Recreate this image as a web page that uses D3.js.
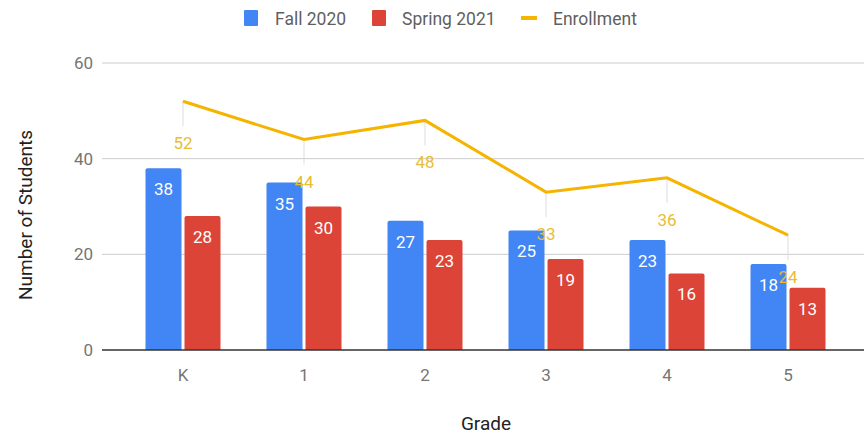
<!DOCTYPE html>
<html lang="en">
<meta charset="UTF-8">
<script src="https://d3js.org/d3.v7.min.js"></script>
<style>
body { margin: 0; background: #fff; }
text { font-family: Roboto, sans-serif; }
.tick-label { fill: #757575; font-size: 17px; }
.grid { stroke: #ccc; stroke-width: 1; }
.bar-label { fill: #fff; font-size: 17px; }
.enroll-label { fill: #e8bd34; font-size: 17px; }
.axis-title { fill: #222; font-size: 19px; }
.legend-text { fill: #5f5f5f; font-size: 17.5px; }
</style>
<body>
<svg width="864" height="436"></svg>
<script>
const grades = ['K', '1', '2', '3', '4', '5'];
const fall2020 = [38, 35, 27, 25, 23, 18];
const spring2021 = [28, 30, 23, 19, 16, 13];
const enrollment = [52, 44, 48, 33, 36, 24];
const yTicks = [0, 20, 40, 60];

const svg = d3.select('svg');
const blue = '#4285f4', red = '#db4437', gold = '#f4b400';

const x = d3.scaleBand().domain(grades).range([122.5, 848.5]);
const y = d3.scaleLinear().domain([0, 60]).range([350, 63]);
const barW = 36, gap = 3;

// gridlines + tick labels
svg.selectAll('.grid').data(yTicks.filter(d => d !== 0))
  .enter().append('line')
    .attr('class', 'grid')
    .attr('x1', 102).attr('x2', 864)
    .attr('y1', d => y(d)).attr('y2', d => y(d));

svg.selectAll('.ylab').data(yTicks)
  .enter().append('text')
    .attr('class', 'tick-label')
    .attr('x', 93).attr('y', d => y(d))
    .attr('dy', '0.35em')
    .attr('text-anchor', 'end')
    .text(d => d);

// bars
const rounded = (x0, y0, w, h, r) =>
  `M${x0},${y0 + h}V${y0 + r}Q${x0},${y0} ${x0 + r},${y0}H${x0 + w - r}Q${x0 + w},${y0} ${x0 + w},${y0 + r}V${y0 + h}Z`;

const series = [
  {vals: fall2020, color: blue, off: -barW - gap / 2},
  {vals: spring2021, color: red, off: gap / 2}
];
series.forEach(s => {
  svg.append('g').selectAll('path').data(s.vals)
    .enter().append('path')
      .attr('fill', s.color)
      .attr('d', (d, i) => {
        const cx = x(grades[i]) + x.bandwidth() / 2 + s.off;
        return rounded(cx, y(d), barW, y(0) - y(d), 2);
      });
  svg.append('g').selectAll('text').data(s.vals)
    .enter().append('text')
      .attr('class', 'bar-label')
      .attr('text-anchor', 'middle')
      .attr('x', (d, i) => x(grades[i]) + x.bandwidth() / 2 + s.off + barW / 2)
      .attr('y', d => y(d) + 27)
      .text(d => d);
});

// baseline
svg.append('line')
  .attr('x1', 102).attr('x2', 864)
  .attr('y1', y(0)).attr('y2', y(0))
  .attr('stroke', '#333').attr('stroke-width', 1.5);

// enrollment line
const cxOf = (d, i) => x(grades[i]) + x.bandwidth() / 2;
svg.append('g').selectAll('line').data(enrollment)
  .enter().append('line')
    .attr('x1', cxOf).attr('x2', cxOf)
    .attr('y1', d => y(d)).attr('y2', d => y(d) + 25)
    .attr('stroke', '#ddd').attr('stroke-width', 1);

svg.append('path')
  .datum(enrollment)
  .attr('fill', 'none')
  .attr('stroke', gold)
  .attr('stroke-width', 3)
  .attr('d', d3.line().x(cxOf).y(d => y(d)));

svg.append('g').selectAll('text').data(enrollment)
  .enter().append('text')
    .attr('class', 'enroll-label')
    .attr('text-anchor', 'middle')
    .attr('x', cxOf)
    .attr('y', d => y(d) + 48)
    .text(d => d);

// x tick labels
svg.append('g').selectAll('text').data(grades)
  .enter().append('text')
    .attr('class', 'tick-label')
    .attr('text-anchor', 'middle')
    .attr('x', d => x(d) + x.bandwidth() / 2)
    .attr('y', 381)
    .text(d => d);

// axis titles
svg.append('text')
  .attr('class', 'axis-title')
  .attr('text-anchor', 'middle')
  .attr('x', 486).attr('y', 430)
  .text('Grade');

svg.append('text')
  .attr('class', 'axis-title')
  .attr('text-anchor', 'middle')
  .attr('transform', 'translate(32,215) rotate(-90)')
  .text('Number of Students');

// legend
const legend = svg.append('g');
legend.append('rect').attr('x', 244).attr('y', 10).attr('width', 14).attr('height', 16).attr('rx', 1).attr('fill', blue);
legend.append('text').attr('class', 'legend-text').attr('x', 275).attr('y', 25).text('Fall 2020');
legend.append('rect').attr('x', 372).attr('y', 10).attr('width', 14).attr('height', 16).attr('rx', 1).attr('fill', red);
legend.append('text').attr('class', 'legend-text').attr('x', 402).attr('y', 25).text('Spring 2021');
legend.append('rect').attr('x', 521).attr('y', 16).attr('width', 16).attr('height', 4).attr('fill', gold);
legend.append('text').attr('class', 'legend-text').attr('x', 553).attr('y', 25).text('Enrollment');
</script>
</body>
</html>
